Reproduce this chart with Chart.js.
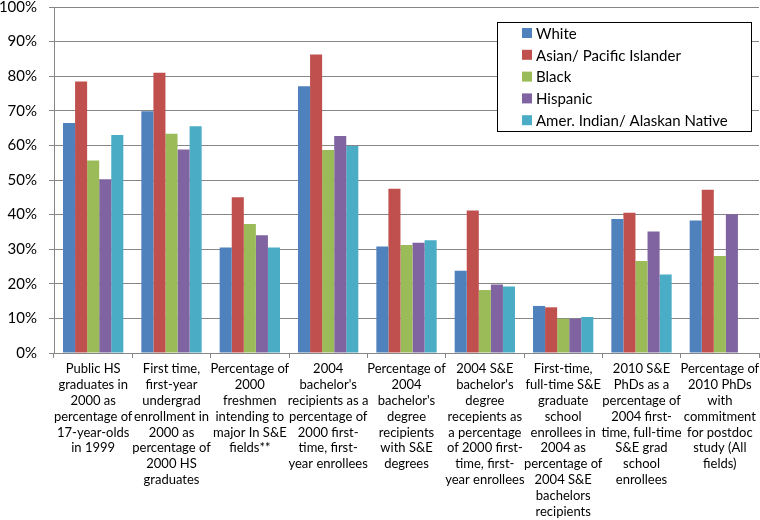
<!DOCTYPE html>
<html>
<head>
<meta charset="utf-8">
<script src="https://cdn.jsdelivr.net/npm/chart.js@4"></script>
<style>
  body { margin: 0; background: #fff; }
  #wrap { width: 760px; height: 520px; }
</style>
</head>
<body>
<div id="wrap"><canvas id="chart" width="760" height="520"></canvas></div>
<script>
// categories (x axis), one array of lines per label
const categories = [
  ['Public HS', 'graduates in', '2000 as', 'percentage of', '17-year-olds', 'in 1999'],
  ['First time,', 'first-year', 'undergrad', 'enrollment in', '2000 as', 'percentage of', '2000 HS', 'graduates'],
  ['Percentage of', '2000', 'freshmen', 'intending to', 'major In S&E', 'fields**'],
  ['2004', "bachelor's", 'recipients as a', 'percentage of', '2000 first-', 'time, first-', 'year enrollees'],
  ['Percentage of', '2004', "bachelor's", 'degree', 'recipients', 'with S&E', 'degrees'],
  ['2004 S&E', "bachelor's", 'degree', 'recepients as', 'a percentage', 'of 2000 first-', 'time, first-', 'year enrollees'],
  ['First-time,', 'full-time S&E', 'graduate', 'school', 'enrollees in', '2004 as', 'percentage of', '2004 S&E', 'bachelors', 'recipients'],
  ['2010 S&E', 'PhDs as a', 'percentage of', '2004 first-', 'time, full-time', 'S&E grad', 'school', 'enrollees'],
  ['Percentage of', '2010 PhDs', 'with', 'commitment', 'for postdoc', 'study (All', 'fields)']
];

// series values, in percent
const white    = [66.5, 69.9, 30.5, 77.1, 30.8, 23.8, 13.6, 38.7, 38.3];
const asian    = [78.5, 81.0, 45.0, 86.3, 47.5, 41.2, 13.2, 40.5, 47.2];
const black    = [55.6, 63.4, 37.3, 58.7, 31.2, 18.2, 9.9, 26.6, 28.0];
const hispanic = [50.2, 58.8, 34.0, 62.7, 31.9, 19.8, 9.9, 35.1, 40.1];
const amerInd  = [63.0, 65.5, 30.5, 59.8, 32.6, 19.2, 10.4, 22.7, null];

const seriesNames = ['White', 'Asian/ Pacific Islander', 'Black', 'Hispanic', 'Amer. Indian/ Alaskan Native'];
const seriesColors = ['#4F81BD', '#C0504D', '#9BBB59', '#8064A2', '#4BACC6'];

const yTicks = [0, 10, 20, 30, 40, 50, 60, 70, 80, 90, 100];

const FONT = 'Lato, "Liberation Sans", sans-serif';

// legend drawn inside the plot area, in a framed box at top right
const boxLegend = {
  id: 'boxLegend',
  afterDraw(chart) {
    const ctx = chart.ctx;
    const area = chart.chartArea;
    const w = 254, h = 109;
    const x = area.right - w - 8;
    const y = area.top + 15;
    ctx.save();
    ctx.fillStyle = '#fff';
    ctx.fillRect(x, y, w, h);
    ctx.strokeStyle = '#000';
    ctx.lineWidth = 1;
    ctx.strokeRect(x + 0.5, y + 0.5, w, h);
    ctx.font = '15px ' + FONT;
    ctx.textBaseline = 'middle';
    chart.data.datasets.forEach((ds, i) => {
      const cy = y + 11 + i * 21.8;
      ctx.fillStyle = ds.backgroundColor;
      ctx.fillRect(x + 25, cy - 5, 10, 10);
      ctx.fillStyle = '#000';
      ctx.fillText(ds.label, x + 39, cy + 1);
    });
    ctx.restore();
  }
};

const allSeries = [white, asian, black, hispanic, amerInd];

new Chart(document.getElementById('chart'), {
  type: 'bar',
  data: {
    labels: categories,
    datasets: allSeries.map((vals, i) => ({
      label: seriesNames[i],
      data: vals,
      backgroundColor: seriesColors[i],
      borderWidth: 0,
      barPercentage: 1,
      categoryPercentage: 0.77
    }))
  },
  options: {
    responsive: false,
    animation: false,
    layout: { padding: { top: 7, right: 1, bottom: 0, left: 0 } },
    plugins: {
      legend: { display: false },
      tooltip: { enabled: false }
    },
    scales: {
      x: {
        afterFit(axis) {
          axis.height = 167;
          axis.paddingLeft = 0;
          axis.paddingRight = 0;
        },
        grid: {
          offset: true,
          drawOnChartArea: false,
          drawTicks: true,
          tickLength: 5,
          color: '#868686'
        },
        border: { color: '#868686' },
        ticks: {
          autoSkip: false,
          maxRotation: 0,
          minRotation: 0,
          color: '#000',
          padding: 3,
          font: { family: FONT, size: 13, lineHeight: 1.22 }
        }
      },
      y: {
        min: 0,
        max: 100,
        afterBuildTicks(axis) {
          axis.ticks = yTicks.map(v => ({ value: v }));
        },
        afterFit(axis) {
          axis.width = 54;
          axis.paddingTop = 0;
          axis.paddingBottom = 0;
        },
        grid: {
          color: '#868686',
          tickLength: 5
        },
        border: { color: '#868686' },
        ticks: {
          color: '#000',
          padding: 12,
          font: { family: FONT, size: 15 },
          callback: v => v + '%'
        }
      }
    }
  },
  plugins: [boxLegend]
});
</script>
</body>
</html>
